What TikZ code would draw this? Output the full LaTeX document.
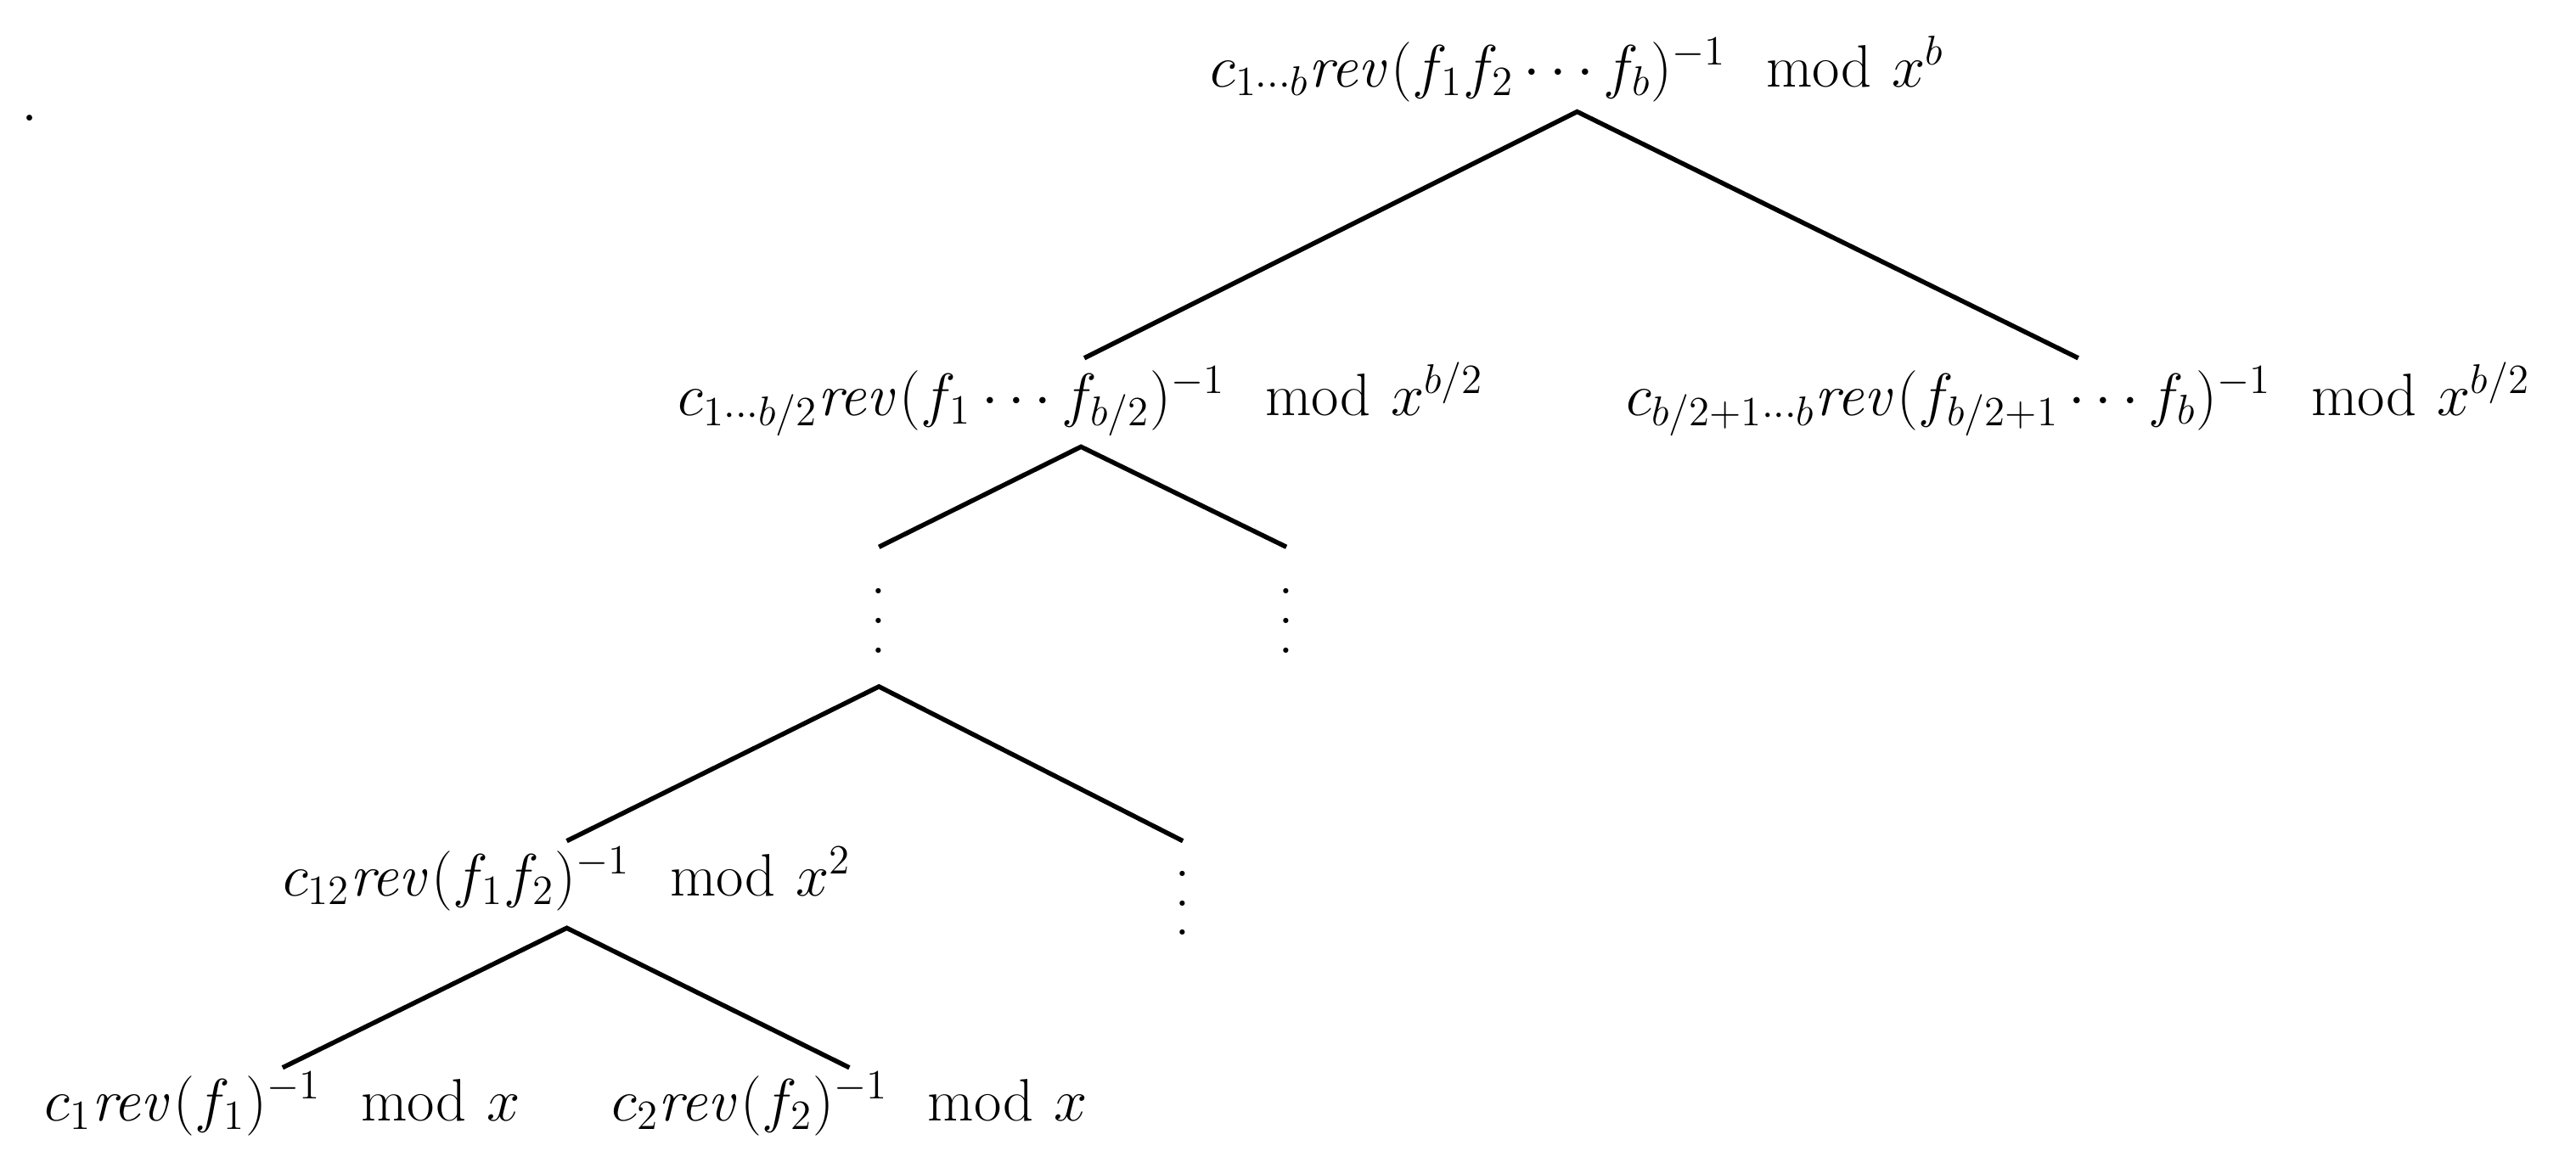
\documentclass[tikz,border=0pt]{standalone}
\usepackage{amsmath}
\newcommand{\myvdots}{\vbox{\baselineskip=10.2pt\lineskiplimit=0pt\hbox{.}\hbox{.}\hbox{.}}}
\begin{document}
\begin{tikzpicture}[x=0.02cm,y=-0.02cm,
  lbl/.style={inner sep=0pt,font=\fontsize{22}{26}\selectfont},
  br/.style={line width=1.6pt}]
\useasboundingbox (0,0) rectangle (1568,711);
\node[lbl] (dot) at (18,72) {$.$};
\node[lbl] (r) at (960,42) {$c_{1\cdots b}\mathit{rev}(f_1f_2\cdots f_b)^{-1} \mod x^b$};
\node[lbl] (l) at (658,243) {$c_{1\cdots b/2}\mathit{rev}(f_1\cdots f_{b/2})^{-1} \mod x^{b/2}$};
\node[lbl] (rr) at (1265,243) {$c_{b/2+1\cdots b}\mathit{rev}(f_{b/2+1}\cdots f_b)^{-1} \mod x^{b/2}$};
\node[lbl] (d1) at (535,378) {\myvdots};
\node[lbl] (d2) at (783,378) {\myvdots};
\node[lbl] (m) at (345,535) {$c_{12}\mathit{rev}(f_1f_2)^{-1} \mod x^2$};
\node[lbl] (d3) at (720,550) {\myvdots};
\node[lbl] (a) at (172,672) {$c_1\mathit{rev}(f_1)^{-1} \mod x$};
\node[lbl] (b) at (517,672) {$c_2\mathit{rev}(f_2)^{-1} \mod x$};
\coordinate (rt) at (960,68); \coordinate (lt) at (658,272);
\coordinate (l1) at (660,218); \coordinate (r1) at (1265,218);
\coordinate (l2) at (535,333); \coordinate (r2) at (783,333);
\coordinate (dt) at (535,418); \coordinate (l3) at (345,512); \coordinate (r3) at (720,512);
\coordinate (mt) at (345,565); \coordinate (l4) at (172,650); \coordinate (r4) at (517,650);
\draw[br] (l1) -- (rt) -- (r1);
\draw[br] (l2) -- (lt) -- (r2);
\draw[br] (l3) -- (dt) -- (r3);
\draw[br] (l4) -- (mt) -- (r4);
\end{tikzpicture}
\end{document}
